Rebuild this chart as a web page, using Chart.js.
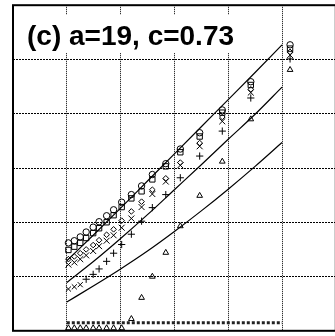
<!DOCTYPE html>
<html>
<head>
<meta charset="utf-8">
<script src="https://cdn.jsdelivr.net/npm/chart.js@4.4.1/dist/chart.umd.min.js"></script>
<style>
html,body{margin:0;padding:0;background:#fff;overflow:hidden}
#wrap{width:341px;height:336px;position:relative}
</style>
</head>
<body>
<div id="wrap"><canvas id="chart"></canvas></div>
<script>
// values (axis units = grid cells)
var xs = [1.03,1.14,1.25,1.36,1.49,1.6,1.74,1.87,2.02,2.2,2.39,2.59,2.84,3.11,3.47,3.89,4.42,5.15];
var circles  = [1.62,1.66,1.73,1.82,1.91,2.01,2.12,2.23,2.37,2.51,2.67,2.88,3.08,3.35,3.65,4.07,4.59,5.27];
var squares  = [1.49,1.55,1.62,1.71,1.80,1.89,2.00,2.13,2.28,2.44,2.57,2.79,3.03,3.29,3.58,4.02,4.53,5.20];
var diamonds = [1.32,1.37,1.43,1.50,1.58,1.67,1.77,1.87,2.03,2.20,2.38,2.60,2.81,3.10,3.46,3.94,4.45,5.14];
var crosses  = [1.22,1.26,1.32,1.39,1.47,1.56,1.66,1.76,1.90,2.07,2.28,2.52,2.75,3.05,3.40,3.86,4.39,5.08];
var pluses   = [0.77,0.81,0.85,0.95,1.04,1.14,1.28,1.43,1.59,1.78,2.02,2.27,2.51,2.82,3.22,3.68,4.29,5.01];
var triangles= [0.05,0.05,0.05,0.05,0.05,0.05,0.05,0.05,0.05,0.22,0.61,1.00,1.44,1.93,2.49,3.12,3.90,4.81];

var lineX  = [1,1.5,2,2.5,3,3.5,4,4.5,5];
var lineA  = [1.29,1.77,2.26,2.76,3.26,3.76,4.26,4.76,5.27];
var lineB  = [0.89,1.28,1.70,2.14,2.60,3.06,3.53,3.99,4.49];
var lineC  = [0.53,0.83,1.14,1.47,1.83,2.21,2.61,3.03,3.47];
var floorX = [1,5];
var floorY = [0.15,0.15];

var title = '(c) a=19, c=0.73';

function pts(xv, yv){
    return xv.map(function(x,i){ return {x:x, y:yv[i]}; });
}

function markers(vals, style, r){
    return {data: pts(xs, vals), pointStyle: style, pointRadius: r,
        borderColor:'#000', backgroundColor:'rgba(0,0,0,0)', pointBorderWidth:1, clip:false};
}

function curve(xv, yv){
    return {data: pts(xv, yv), showLine:true, pointRadius:0, borderColor:'#000',
        borderWidth:1.2, cubicInterpolationMode:'monotone', clip:false};
}

var plusStyles = pluses.map(function(v,i){ return i < 3 ? 'crossRot' : 'cross'; });

var frame = {
    id:'frame',
    beforeDatasetsDraw: function(chart){
        var c = chart.ctx, a = chart.chartArea;
        c.save();
        c.fillStyle = '#fff';
        c.fillRect(a.left+2, 15, 234, 38);
        c.fillStyle = '#000';
        c.font = 'bold 28px "Liberation Sans", Arial, sans-serif';
        c.textBaseline = 'alphabetic';
        c.fillText(title, 27, 45);
        c.restore();
    },
    afterDatasetsDraw: function(chart){
        var c = chart.ctx, a = chart.chartArea;
        c.save();
        c.strokeStyle = '#000';
        c.lineWidth = 2;
        c.strokeRect(a.left, a.top, a.right - a.left, a.bottom - a.top);
        c.restore();
    }
};

var plusSet = markers(pluses, plusStyles, 3.6);

new Chart(document.getElementById('chart'), {
    type:'scatter',
    data:{datasets:[
        curve(lineX, lineA),
        curve(lineX, lineB),
        curve(lineX, lineC),
        {data: pts(floorX, floorY), showLine:true, pointRadius:0, borderColor:'#222',
            borderWidth:3, borderDash:[3,2], clip:false},
        markers(circles, 'circle', 3.2),
        markers(squares, 'rect', 3.8),
        markers(diamonds, 'rectRot', 2.8),
        markers(crosses, 'crossRot', 4.2),
        plusSet,
        markers(triangles, 'triangle', 3.3)
    ]},
    options:{
        responsive:true,
        maintainAspectRatio:false,
        animation:false,
        layout:{padding:{left:13, top:5, right:1, bottom:4}},
        plugins:{legend:{display:false}, tooltip:{enabled:false}},
        scales:{
            x:{type:'linear', min:0, max:6,
                ticks:{display:false, stepSize:1},
                grid:{color:'#000', lineWidth:1, drawTicks:false},
                border:{display:false, dash:[1,1]}},
            y:{type:'linear', min:0, max:6,
                ticks:{display:false, stepSize:1},
                grid:{color:'#000', lineWidth:1, drawTicks:false},
                border:{display:false, dash:[2,1]}}
        }
    },
    plugins:[frame]
});
</script>
</body>
</html>
